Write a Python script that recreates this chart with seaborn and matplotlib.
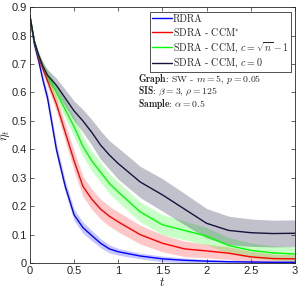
import numpy as np
import pandas as pd
import seaborn as sns
import matplotlib.pyplot as plt

# values
t = [0, 0.05, 0.1, 0.15, 0.2, 0.3, 0.4, 0.5, 0.6, 0.7, 0.8, 0.9, 1.0,
     1.25, 1.5, 1.75, 2.0, 2.25, 2.5, 2.75, 3.0]

rdra = [0.87, 0.77, 0.71, 0.64, 0.58, 0.40, 0.27, 0.17, 0.125, 0.097, 0.07, 0.05, 0.04,
        0.025, 0.015, 0.01, 0.007, 0.005, 0.004, 0.003, 0.003]
rdra_err = [0, 0.005, 0.01, 0.015, 0.02, 0.02, 0.02, 0.02, 0.02, 0.018, 0.016, 0.014, 0.012,
            0.01, 0.01, 0.008, 0.006, 0.005, 0.004, 0.004, 0.004]

ccm_star = [0.87, 0.78, 0.72, 0.68, 0.64, 0.56, 0.46, 0.36, 0.27, 0.225, 0.19, 0.165, 0.145,
            0.1, 0.07, 0.05, 0.043, 0.035, 0.022, 0.016, 0.015]
ccm_star_err = [0, 0.005, 0.01, 0.015, 0.02, 0.025, 0.03, 0.035, 0.035, 0.035, 0.035, 0.035, 0.035,
                0.033, 0.03, 0.027, 0.024, 0.022, 0.02, 0.016, 0.014]

ccm_sqrt = [0.87, 0.78, 0.73, 0.69, 0.66, 0.6, 0.54, 0.48, 0.41, 0.36, 0.32, 0.28, 0.25,
            0.18, 0.135, 0.115, 0.095, 0.062, 0.045, 0.036, 0.032]
ccm_sqrt_err = [0, 0.005, 0.01, 0.015, 0.02, 0.025, 0.03, 0.035, 0.035, 0.035, 0.035, 0.035, 0.035,
                0.035, 0.035, 0.033, 0.03, 0.028, 0.026, 0.025, 0.025]

ccm_zero = [0.87, 0.78, 0.73, 0.69, 0.66, 0.625, 0.58, 0.535, 0.5, 0.46, 0.415, 0.38, 0.35,
            0.285, 0.24, 0.19, 0.14, 0.115, 0.107, 0.104, 0.105]
ccm_zero_err = [0, 0.005, 0.01, 0.015, 0.02, 0.025, 0.03, 0.035, 0.04, 0.045, 0.05, 0.05, 0.055,
                0.055, 0.057, 0.055, 0.052, 0.05, 0.048, 0.047, 0.047]

labels = ['RDRA', 'SDRA - CCM$^{*}$', r'SDRA - CCM, $c=\sqrt{n}-1$', 'SDRA - CCM, $c=0$']
colors = ['#0000ff', '#ff0000', '#00ff00', '#14143c']
band_colors = ['#0000ff', '#ff0000', '#00ff00', '#1a1a40']
band_alpha = [0.22, 0.22, 0.22, 0.27]

series = [(rdra, rdra_err), (ccm_star, ccm_star_err),
          (ccm_sqrt, ccm_sqrt_err), (ccm_zero, ccm_zero_err)]

sns.set_style('ticks')
plt.rcParams['font.family'] = ['Liberation Sans', 'DejaVu Sans']
plt.rcParams['mathtext.fontset'] = 'cm'
plt.rcParams['axes.unicode_minus'] = False

frames = []
for lab, (vals, err) in zip(labels, series):
    frames.append(pd.DataFrame({'t': t, 'eta': vals, 'label': lab}))
df = pd.concat(frames, ignore_index=True)

fig = plt.figure(figsize=(3.05, 2.95), dpi=100)
ax = fig.add_axes([0.098, 0.108, 0.869, 0.868])

for (vals, err), bc, a in zip(series, band_colors, band_alpha):
    v = np.array(vals)
    e = np.array(err)
    ax.fill_between(t, np.clip(v - e, 0, None), v + e, color=bc, alpha=a, lw=0)

sns.lineplot(data=df, x='t', y='eta', hue='label', palette=colors,
             hue_order=labels, lw=1.0, ax=ax, legend=True)

ax.set_xlim(0, 3)
ax.set_ylim(0, 0.9)
ax.set_xticks([0, 0.5, 1, 1.5, 2, 2.5, 3])
ax.set_xticklabels(['0', '0.5', '1', '1.5', '2', '2.5', '3'])
ax.set_yticks(np.arange(0, 0.91, 0.1))
ax.set_yticklabels(['0'] + ['%.1f' % v for v in np.arange(0.1, 0.91, 0.1)])
ax.tick_params(direction='in', top=True, right=True, labelsize=8, length=3,
               width=0.5, colors='#262626', pad=2)
for s in ax.spines.values():
    s.set_linewidth(0.6)
    s.set_color('#262626')
ax.set_xlabel('$t$', fontsize=9, labelpad=0)
ax.set_ylabel(r'$\eta_t$', fontsize=9, labelpad=0)

leg = ax.legend(loc='upper right', bbox_to_anchor=(0.985, 0.979),
                prop={'family': 'cmr10', 'size': 7.2}, frameon=True, fancybox=False,
                edgecolor='#333333', framealpha=1, borderpad=0.2, labelspacing=0.2,
                handlelength=2.0, handletextpad=0.1, borderaxespad=0)
leg.get_frame().set_linewidth(0.6)

info = [r'$\mathbf{Graph}$: SW - $m=5$, $p=0.05$',
        r'$\mathbf{SIS}$: $\beta=3$, $\rho=125$',
        r'$\mathbf{Sample}$: $\alpha=0.5$']
for i, line in enumerate(info):
    ax.text(0.408, 0.72 - i * 0.05, line, transform=ax.transAxes,
            fontsize=7, family='cmr10', va='center', ha='left')

fig.savefig('out.png', dpi=100)
